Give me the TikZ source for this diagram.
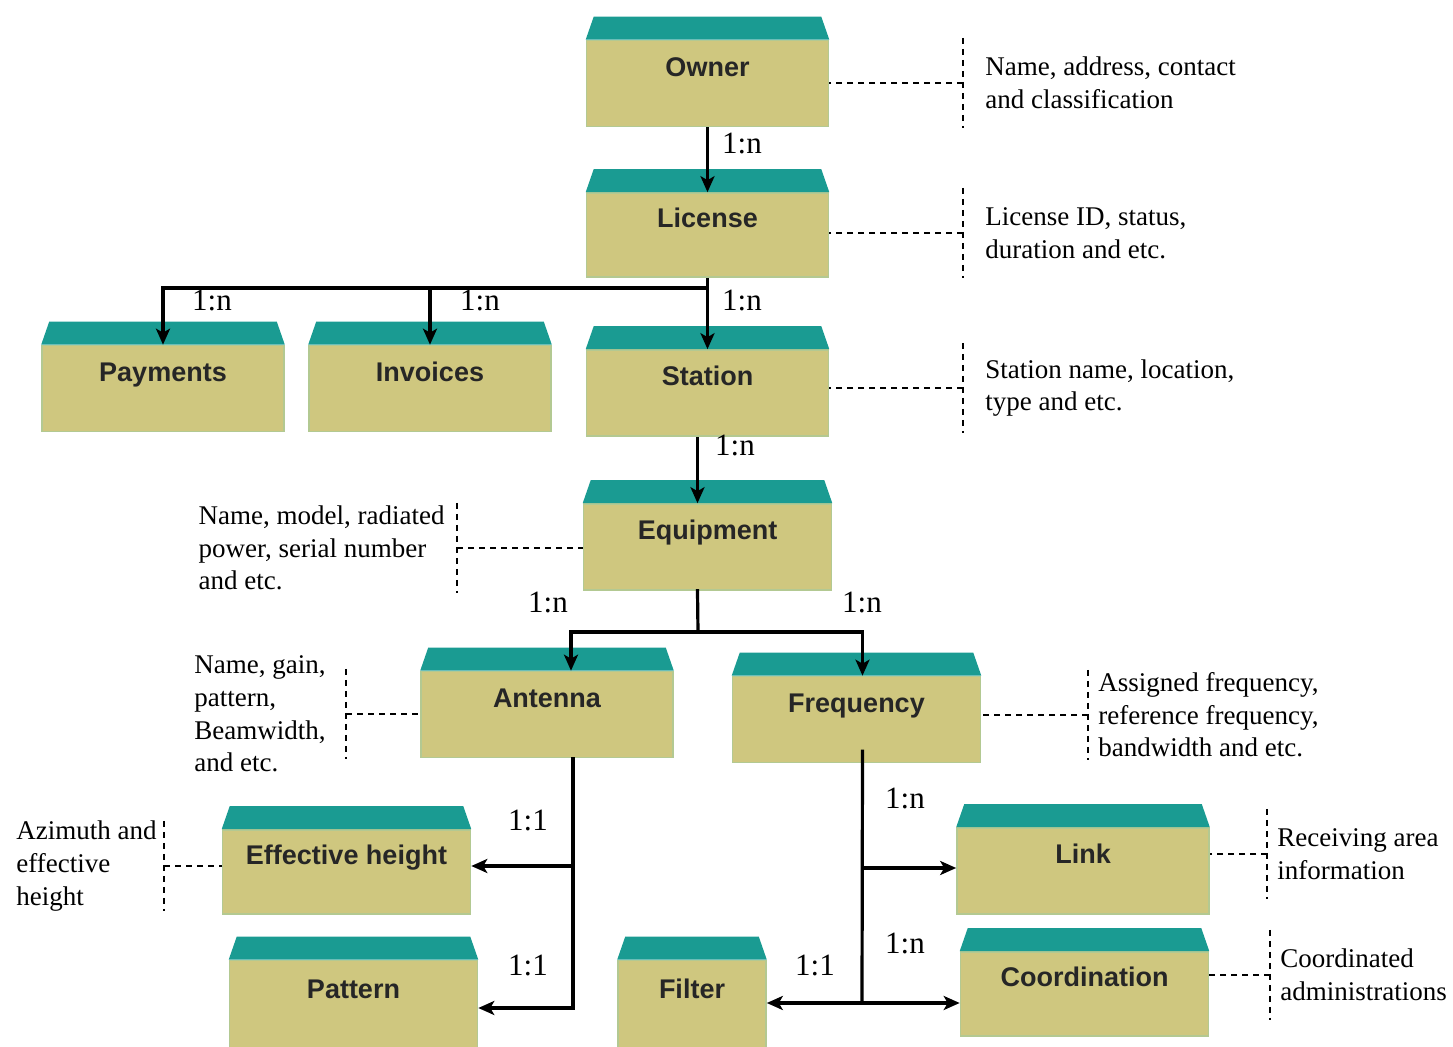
\documentclass[tikz,border=0pt]{standalone}
\usepackage{fontspec}
\setmainfont{Liberation Serif}
\newfontfamily\entityfont{Liberation Sans}
\usetikzlibrary{positioning, arrows.meta}
\definecolor{bodycolor}{HTML}{CFC77F}
\definecolor{capcolor}{HTML}{1A9B92}
\definecolor{edgecolor}{HTML}{B3C992}
\tikzset{
	x=0.5pt, y=-0.5pt, % one unit is one pixel of the sketch, y runs downwards
	>={Stealth[length=8pt,width=7pt,inset=2pt]}, % bold arrow heads
	entity/.style={rectangle, fill=bodycolor, draw=edgecolor, line width=0.8pt, minimum width=124pt, minimum height=43pt, text height=10pt, text depth=17pt, text=black!85, font=\entityfont\bfseries\fontsize{13.5}{16}\selectfont}, % the box body, the cap is added later
	rel/.style={->, line width=1.6pt}, % the relation arrows
	bus/.style={line width=1.6pt, line cap=rect}, % trunk lines without a tip
	note/.style={line width=0.6pt, dash pattern=on 3pt off 2.5pt}, % dashed links to the notes
	info/.style={align=left, inner xsep=5pt, inner ysep=0pt, font=\fontsize{13.5}{16.3}\selectfont},
	ratio/.style={inner sep=0pt, font=\fontsize{15.5}{18}\selectfont},
}
\begin{document}
\begin{tikzpicture}
	\useasboundingbox (0,0) rectangle (1453,1047);
	% entities
	\node[entity, minimum width=121pt] (owner) at (707.5,83.5) {Owner};
	\node[entity, minimum width=121pt, minimum height=42pt] (license) at (707.5,235) {License};
	\node[entity, minimum width=121pt] (payments) at (163,388.5) {Payments};
	\node[entity, minimum width=121pt] (invoices) at (430,388.5) {Invoices};
	\node[entity, minimum width=121pt] (station) at (707.5,393) {Station};
	\node[entity] (equipment) at (707.5,547) {Equipment};
	\node[entity, minimum width=126pt] (antenna) at (547,714.5) {Antenna};
	\node[entity] (frequency) at (856.5,719.5) {Frequency};
	\node[entity, minimum height=42pt] (effheight) at (346.5,872) {Effective height};
	\node[entity, minimum height=45pt] (pattern) at (353.5,1005.5) {Pattern};
	\node[entity, minimum width=74pt, minimum height=45pt] (filter) at (692,1005.5) {Filter};
	\node[entity, minimum width=126pt] (link) at (1083,871) {Link};
	\node[entity, minimum height=42pt] (coordination) at (1084.5,994) {Coordination};
	\foreach \n in {owner,license,payments,invoices,station,equipment,antenna,frequency,effheight,pattern,filter,link,coordination}
		\fill[capcolor] (\n.north west) -- ([xshift=4pt,yshift=11.5pt]\n.north west) -- ([xshift=-4pt,yshift=11.5pt]\n.north east) -- (\n.north east) -- cycle;

	% relations
	\draw[rel] (owner.south) -- (license.north);
	\coordinate (lbus) at (707.5,288);
	\draw[rel] (license.south) -- (station.north);
	\draw[rel] (lbus) -| (payments.north);
	\draw[rel] (lbus) -| (invoices.north);
	\draw[rel] ([xshift=-5pt]station.south) -- ([xshift=-5pt]equipment.north);
	\coordinate (ebus) at (698,632);
	\draw[bus] ([xshift=-5pt]equipment.south) -- (ebus);
	\draw[rel] (ebus) -| ([xshift=12pt]antenna.north);
	\draw[rel] (ebus) -| ([xshift=3pt]frequency.north);
	\coordinate (abus) at (573,1008);
	\draw[bus] ([xshift=13pt]antenna.south) -- (abus);
	\draw[rel] (abus |- 0,866) -- (effheight.east |- 0,866);
	\draw[rel] (abus) -- (abus -| pattern.east);
	\coordinate (fbus) at (862,1003);
	\draw[bus] ([xshift=3pt,yshift=6pt]frequency.south) -- (fbus);
	\draw[rel] (fbus |- 0,868) -- (link.west |- 0,868);
	\draw[rel] (fbus) -- (fbus -| coordination.west);
	\draw[rel] (fbus) -- (filter.east |- fbus);
	\foreach \x/\y/\t [count=\i] in {742/143/1:n, 212/300/1:n, 480/300/1:n, 742/300/1:n, 735/445/1:n, 548/602/1:n, 862/602/1:n, 528/820/1:1, 528/965/1:1, 905/798/1:n, 905/943/1:n, 815/965/1:1}
		\node[ratio] (r\i) at (\x,\y) {\t};

	% notes
	\node[info, anchor=west, inner xsep=11pt] (ownerinfo) at (963,83) {Name, address, contact\\and classification};
	\node[info, anchor=west, inner xsep=11pt] (licenseinfo) at (963,233) {License ID, status,\\duration and etc.};
	\node[info, anchor=west, inner xsep=11pt] (stationinfo) at (963,388) {Station name, location,\\type and etc.};
	\node[info, anchor=west] (freqinfo) at (1088,715) {Assigned frequency,\\reference frequency,\\bandwidth and etc.};
	\node[info, anchor=west] (linkinfo) at (1267,854) {Receiving area\\information};
	\node[info, anchor=west] (coordinfo) at (1270,975) {Coordinated\\administrations};
	\node[info, anchor=east, inner xsep=6pt] (equipinfo) at (457,548) {Name, model, radiated\\power, serial number\\and etc.};
	\node[info, anchor=east, inner xsep=10pt] (antennainfo) at (346,714) {Name, gain,\\pattern,\\Beamwidth,\\and etc.};
	\node[info, anchor=east, inner xsep=3.5pt] (effinfo) at (164,866) {Azimuth and\\effective\\height};
	\foreach \n in {ownerinfo,licenseinfo,stationinfo,freqinfo,linkinfo,coordinfo}
		\draw[note] ([yshift=22.5pt]\n.west) -- ([yshift=-22.5pt]\n.west);
	\foreach \n in {equipinfo,antennainfo,effinfo}
		\draw[note] ([yshift=22.5pt]\n.east) -- ([yshift=-22.5pt]\n.east);
	\draw[note] (ownerinfo.west) -- (ownerinfo.west -| owner.east);
	\draw[note] (licenseinfo.west) -- (licenseinfo.west -| license.east);
	\draw[note] (stationinfo.west) -- (stationinfo.west -| station.east);
	\draw[note] (freqinfo.west) -- (freqinfo.west -| frequency.east);
	\draw[note] (linkinfo.west) -- (linkinfo.west -| link.east);
	\draw[note] (coordinfo.west) -- (coordinfo.west -| coordination.east);
	\draw[note] (equipinfo.east) -- (equipinfo.east -| equipment.west);
	\draw[note] (antennainfo.east) -- (antennainfo.east -| antenna.west);
	\draw[note] (effinfo.east) -- (effinfo.east -| effheight.west);
\end{tikzpicture}
\end{document}
